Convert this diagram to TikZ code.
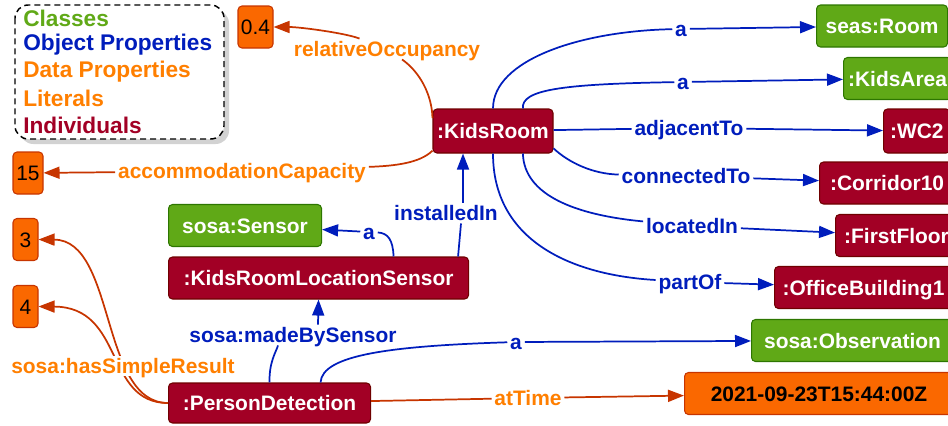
\documentclass[tikz,border=0pt]{standalone}
\usepackage{fontspec}
\setmainfont{Liberation Sans}
\usetikzlibrary{arrows.meta}
\definecolor{clsGreen}{HTML}{60A917}
\definecolor{clsGreenDark}{HTML}{2D7600}
\definecolor{indRed}{HTML}{A20025}
\definecolor{indRedDark}{HTML}{6F0000}
\definecolor{litOrange}{HTML}{FA6800}
\definecolor{litOrangeDark}{HTML}{C73500}
\definecolor{opBlue}{HTML}{001DBC}
\definecolor{dpRed}{HTML}{C73500}
\definecolor{dpOrange}{HTML}{FF7F00}
\begin{document}
\begin{tikzpicture}[x=0.75pt,y=0.75pt,yscale=-1,
  box/.style={rounded corners=3pt, line width=0.8pt, minimum height=31.5pt, inner xsep=2pt, inner ysep=0pt, text height=11.3pt, text depth=0pt, font=\fontsize{15.7}{18}\selectfont\bfseries},
  cls/.style={box, fill=clsGreen, draw=clsGreenDark, text=white},
  ind/.style={box, fill=indRed, draw=indRedDark, text=white},
  lit/.style={box, fill=litOrange, draw=litOrangeDark, text=black, font=\fontsize{15.7}{18}\selectfont},
  oplabel/.style={fill=white, inner sep=2pt, text=opBlue, text height=11.3pt, text depth=0pt, font=\fontsize{15.7}{18}\selectfont\bfseries},
  dplabel/.style={oplabel, text=dpOrange},
  legendtext/.style={anchor=west, inner sep=0pt, font=\fontsize{17}{20}\selectfont\bfseries},
  opline/.style={draw=opBlue, line width=1.3pt},
  dpline/.style={draw=dpRed, line width=1.3pt},
  arr/.style={-{Triangle[length=12pt,width=9pt]}}
]
\path[use as bounding box] (0,0) rectangle (948,425);
\clip (0,0) rectangle (948,425);

%Shape: legend box with shadow
\fill[gray!35, rounded corners=10pt] (20,10) rectangle (229,144);
\draw[fill=white, dash pattern=on 4.5pt off 3pt, line width=1.1pt, rounded corners=10pt] (15,5) rectangle (224,139);
% Text Node
\node[legendtext, text=clsGreen] (legCls) at (23,18.5) {Classes};
\node[legendtext, text=opBlue] (legOp) at (23,45) {Object Properties};
\node[legendtext, text=dpOrange] (legDp) at (23,71.5) {Data Properties};
\node[legendtext, text=dpOrange] (legLit) at (23,98.5) {Literals};
\node[legendtext, text=indRed] (legInd) at (23,125) {Individuals};

%Shape: individuals
\node[ind, minimum width=90pt, minimum height=33pt] (KidsRoom) at (493,131) {:KidsRoom};
\node[ind, anchor=west, minimum width=225pt] (KLS) at (168,278) {:KidsRoomLocationSensor};
\node[ind, anchor=west, minimum width=151.5pt, minimum height=30pt] (PD) at (168,403) {:PersonDetection};
\node[ind, anchor=west, minimum width=50pt, minimum height=33pt] (WC2) at (883,131) {:WC2};
\node[ind, anchor=west, minimum width=101.25pt] (Corridor10) at (819,183) {:Corridor10};
\node[ind, anchor=west, minimum width=91.5pt] (FirstFloor) at (835,235.5) {:FirstFloor};
\node[ind, anchor=west, minimum width=133.5pt] (Office) at (774,287.5) {:OfficeBuilding1};
%Shape: classes
\node[cls, anchor=west, minimum width=98.25pt] (seasRoom) at (816,26) {seas:Room};
\node[cls, anchor=west, minimum width=81pt] (KidsArea) at (843,78.5) {:KidsArea};
\node[cls, anchor=west, minimum width=114.75pt] (sosaSensor) at (168,225.5) {sosa:Sensor};
\node[cls, anchor=west, minimum width=151.5pt] (Observation) at (751,340.5) {sosa:Observation};
%Shape: literals
\node[lit, minimum width=26.25pt] (v04) at (255.5,27) {0.4};
\node[lit, minimum width=22.5pt] (v15) at (28,173) {15};
\node[lit, minimum width=18.75pt] (v3) at (25.5,239.5) {3};
\node[lit, minimum width=18.75pt] (v4) at (25.5,306.5) {4};
\node[lit, anchor=west, minimum width=201.75pt, font=\fontsize{15.7}{18}\selectfont\bfseries] (timeLit) at (684,393.5) {2021-09-23T15:44:00Z};

%Curve Lines: hasSimpleResult
\draw[dpline, arr] (PD.west) .. controls (104,403) and (125,307) .. (v4.east);
\draw[dpline, arr] (PD.west) .. controls (100,403) and (116,240) .. (v3.east);

% Text Node
\node[dplabel] (lRel) at (387,49) {relativeOccupancy};
\node[dplabel] (lAcc) at (242,171) {accommodationCapacity};
\node[dplabel] (lSimple) at (123,366) {sosa:hasSimpleResult};
\node[dplabel] (lTime) at (528,398) {atTime};
\node[oplabel] (lInst) at (446,213) {installedIn};
\node[oplabel] (lASens) at (369,232) {a};
\node[oplabel] (lMade) at (293,335) {sosa:madeBySensor};
\node[oplabel] (lAObs) at (516,342) {a};
\node[oplabel] (lASeas) at (681,29) {a};
\node[oplabel] (lAArea) at (683,82) {a};
\node[oplabel] (lAdj) at (689,128) {adjacentTo};
\node[oplabel] (lConn) at (686,176) {connectedTo};
\node[oplabel] (lLoc) at (692,226) {locatedIn};
\node[oplabel] (lPart) at (690,282) {partOf};

%Curve Lines: data properties
\draw[dpline] (KidsRoom.168) .. controls (432,95) and (420,72) .. (lRel);
\draw[dpline, arr] (lRel) .. controls (345,33) and (300,27) .. (v04);
\draw[dpline] (KidsRoom.198) .. controls (420,163) and (395,166) .. (lAcc);
\draw[dpline, arr] (lAcc) -- (v15);
\draw[dpline] (PD) -- (lTime);
\draw[dpline, arr] (lTime) -- (timeLit);

%Curve Lines: object properties
\draw[opline] (KidsRoom.north) .. controls (493,60) and (580,31) .. (lASeas);
\draw[opline, arr] (lASeas) -- (seasRoom);
\draw[opline] (KidsRoom.37) .. controls (521,90) and (560,84) .. (lAArea);
\draw[opline, arr] (lAArea) -- (KidsArea);
\draw[opline] (KidsRoom) -- (lAdj);
\draw[opline, arr] (lAdj) -- (WC2);
\draw[opline] (KidsRoom.-16) .. controls (568,162) and (592,174) .. (lConn);
\draw[opline, arr] (lConn) -- (Corridor10);
\draw[opline] (KidsRoom.-37) .. controls (524,195) and (575,215) .. (lLoc);
\draw[opline, arr] (lLoc) -- (FirstFloor);
\draw[opline] (KidsRoom.south) .. controls (493,240) and (570,275) .. (lPart);
\draw[opline, arr] (lPart) -- (Office);
\draw[opline] ([xshift=-8.25pt]KLS.north east) -- ([xshift=11.25pt]lInst.south);
\draw[opline, arr] ([xshift=12.75pt]lInst.north) -- ([xshift=-22.5pt]KidsRoom.south);
\draw[opline] ([xshift=56.25pt]KLS.north) .. controls (393,240) and (388,233) .. (lASens);
\draw[opline, arr] (lASens) -- (sosaSensor);
\draw[opline] (PD.north) .. controls (269,362) and (276,352) .. ([xshift=-11.25pt]lMade.south);
\draw[opline, arr] ([xshift=18.75pt]lMade.north) -- (KLS.south);
\draw[opline] ([xshift=38.25pt]PD.north) .. controls (322,355) and (390,346) .. (lAObs);
\draw[opline, arr] (lAObs) -- (Observation);

\end{tikzpicture}
\end{document}
